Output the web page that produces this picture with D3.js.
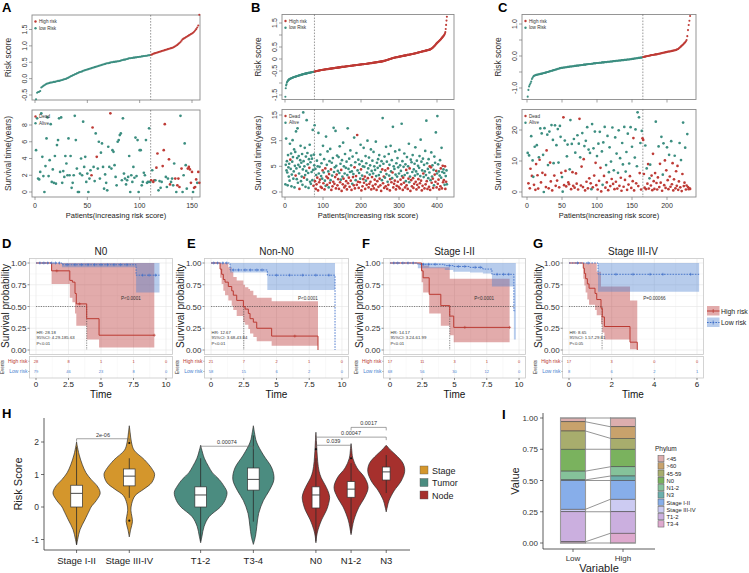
<!DOCTYPE html>
<html><head><meta charset="utf-8">
<script src="https://cdn.jsdelivr.net/npm/d3@7/dist/d3.min.js"></script>
<style>
html,body{margin:0;padding:0;background:#fff;}
svg text{font-family:"Liberation Sans",Arial,Helvetica,sans-serif;}
</style></head><body>
<svg id="fig" width="749" height="573" xmlns="http://www.w3.org/2000/svg"></svg>
<script>
// ================= DATA =================
// Panel A
const riskA = [-0.63,-0.43,-0.41,-0.40,-0.38,-0.27,-0.25,-0.22,-0.20,-0.18,
-0.16,-0.15,-0.14,-0.13,-0.12,-0.12,-0.11,-0.10,-0.10,-0.09,
-0.08,-0.07,-0.07,-0.06,-0.05,-0.04,-0.03,-0.02,-0.01,0.00,
0.02,0.03,0.05,0.07,0.08,0.10,0.11,0.13,0.14,0.16,
0.17,0.19,0.20,0.21,0.22,0.24,0.25,0.26,0.27,0.28,
0.29,0.30,0.31,0.32,0.33,0.34,0.35,0.36,0.37,0.38,
0.39,0.40,0.41,0.42,0.43,0.44,0.45,0.46,0.47,0.47,
0.48,0.49,0.50,0.50,0.51,0.51,0.52,0.52,0.53,0.53,
0.54,0.55,0.56,0.57,0.58,0.58,0.59,0.60,0.61,0.62,
0.62,0.63,0.63,0.64,0.64,0.65,0.65,0.66,0.66,0.67,
0.67,0.68,0.68,0.69,0.69,0.70,0.70,0.71,0.71,0.72,
0.73,0.74,0.76,0.77,0.78,0.79,0.80,0.81,0.82,0.83,
0.84,0.85,0.86,0.87,0.88,0.89,0.90,0.91,0.92,0.93,
0.94,0.95,0.97,0.99,1.01,1.03,1.06,1.09,1.12,1.16,
1.20,1.22,1.24,1.26,1.28,1.30,1.32,1.34,1.36,1.38,
1.40,1.43,1.47,1.51,1.56,1.62,1.95];
const timeA = [5.0,8.8,1.6,1.5,2.4,9.4,4.2,1.9,0.0,3.1,
6.4,8.9,1.9,3.8,8.1,1.2,2.7,1.1,4.3,1.0,
5.6,6.2,8.8,2.4,8.9,1.1,2.5,1.8,4.3,3.4,
2.0,6.4,2.0,4.3,0.5,1.1,2.0,9.1,6.2,2.8,
0.0,0.0,2.2,4.0,2.0,8.4,3.0,4.2,1.2,2.2,
0.0,1.6,2.6,2.0,7.7,3.0,1.3,7.0,4.2,2.8,
6.0,1.6,4.7,5.8,3.0,0.4,2.1,1.1,0.2,5.4,
3.0,9.4,2.8,5.0,4.8,3.2,1.8,0.8,6.0,6.2,
6.8,7.0,1.4,8.8,2.2,1.6,0.9,1.4,1.8,4.3,
0.0,2.0,1.2,3.0,1.7,6.5,1.9,6.2,0.0,5.0,
5.0,0.8,1.2,2.3,2.0,6.2,1.1,1.2,7.6,1.2,
1.4,2.6,1.2,1.4,1.4,2.9,4.6,0.2,1.3,0.5,
1.2,3.1,5.0,8.1,1.8,0.6,1.6,3.9,0.9,1.2,
1.6,0.8,3.4,1.6,0.0,0.8,1.6,0.6,9.1,2.8,
0.0,2.0,5.8,3.2,0.4,2.8,3.0,2.7,1.1,2.4,
0.0,0.5,0.6,1.5,1.1,2.4,1.1];
const statusA = [0,0,0,0,0,0,0,0,0,0, 0,0,0,0,0,0,0,0,0,0, 0,0,0,0,0,0,0,0,0,0,
0,0,0,0,0,0,0,0,0,0, 0,0,0,0,0,0,0,0,0,0, 0,0,0,1,1,0,0,0,1,0,
0,0,0,0,0,0,0,0,0,0, 0,1,0,0,0,0,0,0,0,0, 0,0,0,0,0,0,0,0,0,0,
0,0,0,0,0,0,0,0,0,0, 0,0,0,0,0,0,0,0,0,0,
1,0,1,1,0,1,1,0,0,0, 0,1,1,1,0,0,0,1,1,0, 0,0,0,1,0,1,1,1,0,1,
0,0,0,0,0,1,1,1,1,1, 0,1,1,1,0,1,1];
const cutA = 110;

// Panel B
const riskB = [-1.57,-1.22,-1.10,-1.05,-0.98,-0.95,-0.92,-0.90,-0.88,-0.86,
-0.85,-0.84,-0.83,-0.82,-0.81,-0.80,-0.80,-0.79,-0.78,-0.78,
-0.77,-0.76,-0.76,-0.75,-0.75,-0.74,-0.74,-0.73,-0.73,-0.72,
-0.72,-0.71,-0.71,-0.70,-0.70,-0.69,-0.69,-0.68,-0.68,-0.67,
-0.67,-0.66,-0.66,-0.65,-0.65,-0.64,-0.64,-0.63,-0.63,-0.63,
-0.62,-0.62,-0.61,-0.61,-0.61,-0.60,-0.60,-0.59,-0.59,-0.59,
-0.58,-0.58,-0.58,-0.57,-0.57,-0.56,-0.56,-0.56,-0.55,-0.55,
-0.55,-0.54,-0.54,-0.54,-0.53,-0.53,-0.53,-0.52,-0.52,-0.51,
-0.51,-0.51,-0.50,-0.50,-0.50,-0.49,-0.49,-0.49,-0.48,-0.48,
-0.48,-0.47,-0.47,-0.47,-0.46,-0.46,-0.46,-0.46,-0.45,-0.45,
-0.45,-0.45,-0.44,-0.44,-0.44,-0.44,-0.43,-0.43,-0.43,-0.43,
-0.42,-0.42,-0.42,-0.42,-0.41,-0.41,-0.41,-0.41,-0.40,-0.40,
-0.40,-0.40,-0.40,-0.39,-0.39,-0.39,-0.39,
-0.38,-0.38,-0.38,-0.38,-0.37,-0.37,-0.37,-0.37,-0.37,-0.36,
-0.36,-0.36,-0.36,-0.35,-0.35,-0.35,-0.35,-0.34,-0.34,-0.34,
-0.34,-0.33,-0.33,-0.33,-0.33,-0.33,-0.32,-0.32,-0.32,-0.32,
-0.31,-0.31,-0.31,-0.31,-0.30,-0.30,-0.30,-0.30,-0.30,-0.29,
-0.29,-0.29,-0.29,-0.29,
-0.28,-0.28,-0.28,-0.28,-0.28,-0.27,-0.27,-0.27,-0.27,-0.27,
-0.26,-0.26,-0.26,-0.26,-0.26,-0.25,-0.25,-0.25,-0.25,-0.25,
-0.24,-0.24,-0.24,-0.24,-0.24,-0.23,-0.23,-0.23,-0.23,-0.23,
-0.22,-0.22,-0.22,-0.22,-0.22,-0.22,-0.21,-0.21,-0.21,-0.21,
-0.21,-0.21,-0.20,-0.20,
-0.20,-0.20,-0.19,-0.19,-0.19,-0.19,-0.18,-0.18,-0.18,-0.18,
-0.17,-0.17,-0.17,-0.17,-0.16,-0.16,-0.16,-0.16,-0.15,-0.15,
-0.15,-0.15,-0.14,-0.14,-0.14,-0.14,-0.13,-0.13,-0.13,-0.13,
-0.12,-0.12,-0.12,-0.12,-0.11,-0.11,-0.11,-0.11,-0.10,-0.10,
-0.10,-0.09,-0.09,-0.09,
-0.08,-0.08,-0.07,-0.07,-0.06,-0.06,-0.05,-0.05,-0.04,-0.04,
-0.03,-0.03,-0.02,-0.02,-0.01,-0.01,0.00,0.00,0.01,0.01,
0.02,0.02,0.03,0.03,0.04,0.04,0.05,0.05,0.05,0.06,
0.06,0.06,0.07,0.07,0.07,0.08,0.08,0.08,0.09,0.09,
0.09,0.10,0.10,0.10,
0.11,0.11,0.11,0.12,0.12,0.12,0.13,0.13,0.13,0.14,
0.14,0.14,0.15,0.15,0.15,0.16,0.16,0.16,0.17,0.17,
0.17,0.18,0.18,0.18,0.19,0.19,0.19,0.20,0.20,0.20,
0.21,0.21,0.21,0.22,0.22,0.22,0.23,0.23,0.23,0.24,
0.24,0.24,0.25,
0.25,0.26,0.26,0.27,0.27,0.27,0.28,0.28,0.29,0.29,
0.29,0.30,0.30,0.31,0.31,0.31,0.32,0.32,0.33,0.33,
0.33,0.34,0.34,0.35,0.35,0.35,0.36,0.36,0.37,0.37,
0.37,0.38,0.38,0.39,0.39,0.40,
0.41,0.42,0.43,0.44,0.45,0.46,0.48,0.49,0.51,0.52,
0.54,0.55,0.57,0.59,0.61,0.63,0.65,
0.67,0.68,0.70,0.71,0.73,0.74,0.76,0.77,0.79,0.80,
0.82,0.84,0.86,
0.88,0.90,0.92,0.94,0.96,0.98,1.00,1.03,1.07,
1.12,1.25,1.42,1.60,1.76];
const timeB = [1.5,5.3,10.4,4.2,6.0,3.8,1.3,7.2,4.8,3.0,
5.5,2.2,9.4,6.3,4.5,7.5,1.1,3.4,5.9,10.1,
6.8,2.6,4.0,8.3,0.9,5.1,7.8,3.2,11.8,4.6,
2.5,6.6,12.4,1.8,5.3,7.0,3.6,0.6,4.9,6.2,
9.0,2.1,5.7,3.0,7.4,1.4,4.4,15.5,6.0,2.8,
5.0,8.6,3.3,1.0,6.9,4.1,14.0,2.4,7.6,5.4,
3.7,0.8,6.4,4.7,9.2,2.0,5.8,1.6,7.1,3.9,
6.5,2.3,12.1,4.3,1.2,7.3,5.2,
13.0,2.1,4.5,0.6,3.3,1.5,6.1,2.8,5.0,0.3,
11.5,3.6,1.9,4.9,2.4,7.3,1.0,3.1,5.6,0.8,
2.6,4.2,9.0,1.7,3.8,6.4,0.5,2.2,4.6,1.2,
10.8,3.0,5.3,1.4,7.9,2.7,4.0,0.9,3.5,6.0,
1.8,8.4,2.3,4.4,0.4,5.7,3.2,1.1,6.6,2.0,
12.5,3.9,1.6,4.8,2.9,11.9,0.7,5.1,3.4,7.1,
1.3,4.1,2.5,6.8,0.6,3.7,8.9,1.9,5.5,2.4,
4.3,0.2,6.2,3.0,1.5,9.6,2.6,5.0,0.9,3.6,
7.4,1.2,4.7,2.1,5.9,0.5,3.3,12.4,1.7,4.5,
2.8,6.5,1.0,3.9,8.1,2.2,5.2,0.4,4.0,1.6,
6.9,2.9,3.5,1.3,10.6,4.8,0.7,5.8,2.3,3.1,
7.6,1.4,11.1,4.2,2.0,6.3,0.8,3.7,5.4,1.9,
2.6,9.2,4.4,0.3,6.0,3.2,1.1,5.0,2.5,8.6,
1.8,4.9,3.0,0.6,7.0,2.2,5.6,1.4,3.8,10.0,
2.7,4.6,0.9,6.7,1.6,3.4,5.2,2.0,8.3,0.5,
4.1,2.9,6.1,1.2,3.6,7.8,0.7,5.0,2.4,4.3,
1.5,9.8,3.1,0.4,5.7,2.1,4.7,6.4,1.0,3.3,
7.2,2.6,5.1,1.3,3.9,0.2,6.0,2.3,4.4,14.4,
1.7,5.5,3.0,0.8,6.9,2.8,4.2,1.1,8.8,3.5,
5.9,0.6,2.0,4.6,1.4,7.4,3.2,5.3,0.3,2.5,
9.0,4.0,1.9,6.2,2.7,3.8,12.7,0.9,5.0,1.6,
4.5,2.2,7.9,3.4,0.5,5.6,1.2,3.0,6.6,2.0,
4.8,1.0,3.6,8.2,0.7,5.2,2.4,4.1,1.5,13.3,
3.1,6.0,0.4,2.8,4.9,1.8,7.5,3.3,0.9,5.4,
2.1,4.3,1.3,6.8,3.7,0.6,5.0,2.6,9.4,1.9,
4.6,3.0,0.2,6.3,2.3,5.8,1.1,3.9,7.2,2.7,
0.8,4.4,1.6,5.5,3.2,8.7,2.0,4.0,0.5,6.1,
1.4,3.5,5.1,2.5,0.9,4.7,7.0,1.7,3.1,10.2,
2.2,5.9,0.3,4.2,1.2,6.5,3.6,2.9,5.3,0.7,
4.0,8.0,1.5,3.3,13.9,2.1,5.6,0.6,4.5,2.7,
6.4,1.0,3.8,5.0,0.4,2.3,4.8,7.7,1.8,3.0,
5.2,2.6,0.8,4.3,1.3,6.9,3.4,5.7,2.0,11.6,
4.1,0.9,3.6,14.8,1.6,5.4,2.4,4.0,0.5,3.2,
6.2,1.1,4.6,2.8,8.6,0.7,3.9,5.1,1.9,4.4,
2.3,3.7,1.4,5.0,0.6,3.1,2.0,4.2,1.5];
const statusB = [0,0,0,0,0,0,0,0,0,0, 0,0,0,1,0,0,0,0,0,0, 0,0,0,0,0,0,0,1,0,0,
0,0,0,0,0,0,0,1,0,0, 0,0,0,0,0,0,0,0,0,1, 0,0,0,0,0,0,0,0,0,0,
0,0,0,1,0,0,0,0,0,0, 0,0,0,0,1,0,0,
0,1,0,1,0,1,0,1,0,1, 0,0,1,0,1,0,1,0,0,1, 0,1,0,1,0,0,1,0,1,0,
0,1,0,1,0,1,0,0,1,0, 1,0,0,1,1,0,0,1,0,1, 0,0,1,0,1,0,1,0,1,0,
1,0,1,0,1,0,0,1,0,0, 1,1,0,0,1,0,1,0,1,0, 0,1,0,1,0,1,0,0,1,0,
1,0,1,0,0,1,0,1,0,0, 0,1,0,1,0,1,1,0,0,1, 0,1,1,0,1,0,1,0,0,1,
0,0,1,1,0,0,1,0,1,0, 1,0,1,1,0,0,0,1,0,0, 1,0,1,0,1,0,0,1,0,1,
0,1,0,1,0,0,1,0,1,0, 1,0,0,1,0,1,0,0,1,0, 0,1,0,1,0,1,0,0,1,0,
1,0,1,1,0,0,1,1,0,0, 0,1,0,1,1,0,0,0,1,1, 0,0,1,0,0,1,0,1,0,1,
0,1,0,0,1,0,1,0,0,1, 0,1,0,0,1,0,1,0,1,0, 0,0,1,1,0,1,0,0,1,0,
0,1,1,0,0,1,0,1,0,0, 1,0,1,0,1,0,1,0,0,1, 1,0,1,0,0,0,1,0,1,0,
1,0,0,1,1,0,0,1,0,0, 1,0,1,0,1,0,1,0,0,1, 0,0,1,0,0,1,0,1,0,0,
0,1,0,1,1,0,1,0,1,0, 0,1,1,0,0,0,1,0,1,0, 1,1,0,0,1,0,1,0,1,0,
0,1,1,0,0,1,0,1,1,0, 1,0,0,1,1,0,1,0,0];
const cutB = 77;

// Panel C
const riskC = [-1.27,-1.06,-0.95,-0.90,-0.85,-0.80,-0.72,-0.68,-0.64,-0.62,
-0.61,-0.60,-0.59,-0.59,-0.58,-0.58,-0.57,-0.57,-0.56,-0.56,-0.55,-0.55,-0.54,
-0.53,-0.53,-0.52,-0.52,-0.51,-0.50,-0.50,-0.49,-0.48,-0.48,-0.47,-0.46,-0.46,-0.45,-0.44,-0.44,-0.43,-0.42,-0.42,-0.41,-0.40,-0.40,-0.39,-0.38,
-0.38,-0.37,-0.37,-0.37,-0.36,-0.36,-0.36,-0.35,-0.35,-0.35,-0.34,-0.34,-0.34,-0.33,-0.33,-0.33,-0.33,-0.32,-0.32,-0.32,-0.31,-0.31,-0.31,-0.30,-0.30,-0.30,-0.30,-0.29,-0.29,-0.29,-0.28,-0.28,-0.28,
-0.27,-0.27,-0.27,-0.27,-0.26,-0.26,-0.26,-0.25,-0.25,-0.25,-0.25,-0.24,-0.24,-0.24,-0.23,-0.23,-0.23,-0.23,-0.22,-0.22,-0.22,-0.22,-0.21,-0.21,-0.21,-0.21,-0.20,-0.20,-0.20,-0.20,-0.19,-0.19,-0.19,-0.19,-0.18,-0.18,-0.18,-0.18,
-0.17,-0.17,-0.17,-0.17,-0.16,-0.16,-0.16,-0.16,-0.15,-0.15,-0.15,-0.15,-0.14,-0.14,-0.14,-0.14,-0.13,-0.13,-0.13,-0.13,-0.12,-0.12,-0.12,-0.12,-0.11,-0.11,-0.11,-0.11,-0.10,-0.10,-0.10,-0.09,-0.09,
-0.09,-0.08,-0.08,-0.08,-0.07,-0.07,-0.07,-0.06,-0.06,-0.06,-0.05,-0.05,-0.05,-0.04,
-0.03,-0.03,-0.02,-0.02,-0.01,-0.01,0.00,0.00,0.01,0.01,0.02,0.02,0.03,0.03,0.03,0.04,0.04,0.05,0.05,0.05,0.06,0.06,0.07,0.07,0.08,
0.08,0.09,0.09,0.10,0.10,0.11,0.11,0.12,0.12,0.13,0.13,0.14,0.14,0.14,0.15,0.15,0.16,0.16,0.17,0.17,0.18,0.18,0.19,
0.20,0.21,0.22,0.24,0.26,0.28,0.30,0.32,0.34,0.36,0.38,0.41,0.43,0.46,
0.50,0.62,0.81,0.97,1.10,1.25];
const timeC = [12.6,2.8,11.8,1.2,7.5,18.0,5.2,10.2,4.9,2.3,
14.6,0.7,9.0,15.1,5.4,1.1,11.2,10.4,20.5,3.1,
18.9,6.2,12.0,0.0,20.6,5.5,1.6,13.4,18.5,8.7,
1.2,19.5,9.5,3.4,21.6,0.5,16.8,9.3,5.3,21.5,
2.0,15.1,3.7,20.3,9.5,1.5,21.3,17.8,6.2,4.8,
0.1,24.1,2.2,16.6,6.8,1.8,11.5,15.3,3.1,2.5,
7.3,23.2,0.9,15.5,6.4,2.0,17.1,1.4,12.7,6.0,
2.7,18.3,0.8,15.6,23.6,11.2,2.1,8.2,19.0,1.6,
10.6,14.8,0.5,16.5,3.3,20.9,1.2,13.7,4.4,12.6,
2.8,0.9,21.9,1.5,14.1,5.3,19.5,9.4,2.2,11.6,
0.8,15.6,3.6,19.4,7.8,0.2,13.1,2.3,16.0,5.2,
21.0,1.4,8.7,3.1,18.1,0.6,6.4,14.4,1.9,9.8,
4.2,20.8,2.6,7.0,0.9,17.6,3.3,12.4,1.1,6.2,
19.9,2.0,10.9,4.6,0.4,15.8,8.9,1.7,21.0,3.9,
6.6,12.9,0.7,18.8,2.4,9.2,5.1,20.9,1.3,14.6,
3.5,17.4,0.5,11.1,20.2,2.8,8.3,25.7,1.9,24.1,
6.1,15.8,0.8,19.7,17.3,
16.8,5.8,1.4,15.0,0.9,7.6,2.7,9.0,1.1,4.4,
8.8,2.1,5.3,0.6,12.3,3.5,1.0,6.1,22.7,2.9,
0.8,4.7,14.7,1.6,9.1,3.0,17.8,0.4,5.6,15.7,
2.2,10.2,1.3,7.0,14.4,3.8,0.9,12.0,5.0,1.7,
16.4,2.5,9.3,0.5,4.1,11.7,1.2,6.7,2.0,8.4,
0.7,3.4,15.8,1.5,10.3,0.3,5.8,22.4,1.9,3.0,
14.3,0.8,2.1,18.7,1.6,0.9,1.2,1.0];
const statusC = [0,1,0,1,1,0,1,0,0,1, 0,1,1,0,1,1,0,1,0,1, 0,1,0,0,0,1,1,1,0,0,
1,0,1,1,0,1,0,0,1,0, 1,0,1,0,0,1,0,0,1,0, 0,1,1,0,1,1,0,0,1,1,
0,0,1,0,1,1,0,1,0,1, 1,0,1,0,1,0,1,1,0,1, 1,0,1,0,1,0,1,0,1,0,
1,0,0,1,0,1,0,1,1,0, 1,0,1,0,1,1,0,0,0,1, 0,1,0,1,0,1,0,0,1,0,
1,0,1,0,1,0,1,0,1,0, 0,1,0,1,1,0,0,1,0,1, 0,0,1,0,1,0,1,0,1,0,
1,1,1,0,0,1,0,0,1,0, 1,0,1,0,1,
1,1,1,0,1,0,1,1,1,0, 0,1,1,1,1,1,1,1,0,1, 1,1,0,1,1,1,0,1,0,0,
1,1,1,1,0,1,1,0,1,1, 0,1,1,1,1,0,1,1,1,1, 1,1,0,1,0,1,1,0,1,1,
0,1,1,0,1,1,1,1];
const cutC = 165;

// KM panels: rows are [time, survival, lower CI, upper CI]
const kmTitles = ["N0","Non-N0","Stage I-II","Stage III-IV"];
const dHigh = [[0,1,1,1],[1.2,0.91,0.76,1],[2.6,0.80,0.60,1],[2.8,0.78,0.55,1],[3.0,0.65,0.42,1],[3.1,0.53,0.28,1],[3.9,0.36,0.12,1],[4.85,0.17,0.03,1],[9.1,0.17,0.03,1]];
const dLow = [[0,1,1,1],[2.0,0.98,0.95,1],[7.7,0.86,0.66,1],[9.5,0.86,0.66,1]];
const eHigh = [[0,1,1,1],[0.69,0.93,0.83,1],[0.81,0.87,0.76,1],[0.94,0.81,0.68,1],[1.07,0.78,0.63,1],[1.32,0.73,0.57,0.95],[1.58,0.68,0.51,0.9],[1.70,0.63,0.46,0.84],[1.96,0.57,0.39,0.8],[2.47,0.5,0.32,0.75],[2.6,0.47,0.29,0.72],[2.85,0.42,0.24,0.7],[2.98,0.36,0.19,0.68],[3.23,0.32,0.15,0.63],[3.49,0.25,0.1,0.6],[4.63,0.16,0.05,0.56],[8.17,0,0,0]];
const eLow = [[0,1,1,1],[1.45,0.92,0.89,1],[4.3,0.86,0.69,1],[9.47,0,0,0]];
const fHigh = [[0,1,1,1],[2.45,0.91,0.78,1],[2.57,0.83,0.66,0.97],[3.04,0.64,0.42,0.95],[3.94,0.51,0.28,0.95],[4.63,0.39,0.17,0.82],[4.94,0.26,0.09,0.82],[9.27,0.26,0.09,0.82]];
const fLow = [[0,1,1,1],[2.16,0.985,0.94,1],[4.25,0.97,0.92,1],[4.9,0.96,0.9,1],[6.2,0.95,0.89,1],[7.2,0.93,0.88,1],[7.9,0.87,0.73,1],[9.6,0.45,0.12,1],[9.75,0.45,0.12,1]];
const gHigh = [[0,1,1,1],[0.67,0.94,0.82,1],[0.72,0.88,0.74,1],[0.78,0.82,0.66,1],[0.86,0.76,0.58,1],[0.94,0.71,0.52,1],[1.22,0.65,0.46,1],[1.3,0.58,0.4,0.9],[1.5,0.48,0.3,0.73],[1.56,0.38,0.2,0.73],[1.66,0.27,0.12,0.73],[2.86,0.09,0.01,0.57],[3.2,0,0,0]];
const gLow = [[0,1,1,1],[1.36,0.87,0.67,1],[6.1,0.87,0.67,1]];
const censHigh = [[1.6,3.35,9.1],[6.4],[5.8,9.27],[]];
const censLow = [[0.3,0.6,0.9,1.2,1.5,1.8,2.4,3,3.5,4,4.5,5,5.5,6,6.5,7,8.2,8.7,9.2],[0.2,0.5,0.9,1.2,1.7,2.1,2.6,3,3.5,3.9,5,6,7,8,9],[0.3,0.6,1,1.4,1.8,2.6,3,3.5,4.6,5.3,5.8,6.6,7,8.3,8.8,9.2],[0.4,0.9,2.2,3,3.8,4.4,5.7]];
const riskHigh = [[28,8,1,1,0],[21,7,2,1,0],[17,11,3,1,0],[17,3,0,0]];
const riskLow = [[79,46,23,8,0],[58,15,6,2,0],[68,56,30,12,0],[8,6,2,1]];
const pTexts = ["P<0.0001","P<0.0001","P<0.0001","P=0.00066"];
const hrTexts = [["HR: 28.18","95%CI: 4.29-185.63","P<0.01"],["HR: 12.67","95%CI: 3.68-43.84","P<0.01"],["HR: 14.17","95%CI: 3.24-61.99","P<0.01"],["HR: 8.65","95%CI: 1.57-29.81","P<0.05"]];
const medianT = [[3.9],[2.5],[4.63],[1.55]];
const medianEnd = [3.9,9.47,9.6,1.55];
const timeTicks = [[0,2.5,5,7.5,10],[0,2.5,5,7.5,10],[0,2.5,5,7.5,10],[0,2,4,6]];

// Panel H violins
const vGroups = ["Stage","Tumor","Node"];
const vCats = [["Stage I-II","Stage III-IV"],["T1-2","T3-4"],["N0","N1-2","N3"]];
const vProfiles = {
 "Stage I-II": [[-1.17,0],[-1.0,0.04],[-0.7,0.13],[-0.4,0.31],[-0.1,0.49],[0.0,0.55],[0.2,0.75],[0.4,0.89],[0.5,0.88],[0.65,0.78],[0.85,0.55],[1.05,0.36],[1.3,0.22],[1.6,0.1],[1.9,0.02],[2.0,0]],
 "Stage III-IV": [[-0.92,0],[-0.7,0.05],[-0.45,0.12],[-0.3,0.1],[-0.1,0.06],[0.1,0.09],[0.35,0.22],[0.55,0.55],[0.75,0.85],[1.0,0.96],[1.15,0.88],[1.45,0.58],[1.75,0.18],[2.0,0.08],[2.3,0.03],[2.5,0]],
 "T1-2": [[-1.1,0],[-0.9,0.05],[-0.6,0.13],[-0.3,0.32],[0.0,0.75],[0.2,0.92],[0.45,1.0],[0.65,0.88],[0.85,0.7],[1.05,0.45],[1.25,0.3],[1.5,0.14],[1.8,0.03],[1.9,0]],
 "T3-4": [[-1.15,0],[-0.9,0.08],[-0.6,0.13],[-0.2,0.2],[0.2,0.38],[0.5,0.6],[0.85,0.78],[1.2,0.7],[1.6,0.38],[2.0,0.12],[2.3,0.04],[2.5,0]],
 "N0": [[-1.1,0],[-0.9,0.04],[-0.7,0.12],[-0.4,0.32],[-0.1,0.6],[0.1,0.72],[0.3,0.78],[0.5,0.68],[0.7,0.5],[0.9,0.3],[1.1,0.18],[1.4,0.1],[1.7,0.06],[2.0,0.03],[2.3,0]],
 "N1-2": [[-0.85,0],[-0.6,0.08],[-0.4,0.16],[0.0,0.45],[0.3,0.78],[0.6,0.97],[0.9,0.78],[1.2,0.34],[1.5,0.1],[1.8,0.03],[1.95,0]],
 "N3": [[-0.15,0],[0.0,0.06],[0.2,0.16],[0.5,0.45],[0.8,0.85],[1.1,1.05],[1.35,0.95],[1.6,0.55],[1.75,0.25],[1.9,0]]
};
// [lower whisker, q1, median, q3, upper whisker]
const vBoxes = {"Stage I-II":[-1.15,0.0,0.42,0.67,1.85],"Stage III-IV":[0.28,0.65,0.95,1.17,1.5],"T1-2":[-1.05,0.0,0.37,0.62,1.5],"T3-4":[-0.45,0.52,0.85,1.2,2.2],"N0":[-1.05,-0.03,0.37,0.62,1.5],"N1-2":[-0.8,0.3,0.55,0.78,1.35],"N3":[0.43,0.83,1.08,1.23,1.6]};
const vOutliers = {"Stage III-IV":[1.97,-0.42],"N0":[1.78],"N1-2":[1.5]};
const vBrackets = [["Stage I-II","Stage III-IV",2.1,"2e-06"],["T1-2","T3-4",1.87,"0.00074"],["N0","N1-2",1.9,"0.039"],["N0","N3",2.15,"0.00047"],["N1-2","N3",2.45,"0.0017"]];
const vColors = ["#D4962C","#4B8C80","#A6302D"];

// Panel I stacked bars
const phylum = ["<45",">60","45-59","N0","N1-2","N3","Stage I-II","Stage III-IV","T1-2","T3-4"];
const lowVals = [0.03,0.074,0.146,0.175,0.07,0.005,0.23,0.02,0.24,0.01];
const highVals = [0.07,0.093,0.087,0.14,0.074,0.036,0.15,0.10,0.172,0.078];
const phylumColors = ["#DCAEAE","#C8A26C","#A8AD6D","#7AB25E","#85C29A","#6BAFAC","#87AEEA","#CCCBF2","#CBAFDF","#DEA9CE"];

// ================= DRAW =================
const svg = d3.select("#fig");
const RED = "#BE3B36", TEAL = "#3C8E80";
const KRED = "#BB3A32", KBLUE = "#3F6FC8";

function txt(g, x, y, s, size, opt = {}) {
  const t = g.append("text").attr("x", x).attr("y", y).attr("font-size", size).text(s)
    .attr("fill", opt.fill || "#1a1a1a").attr("text-anchor", opt.anchor || "start");
  if (opt.weight) t.attr("font-weight", opt.weight);
  if (opt.rotate) t.attr("transform", `rotate(${opt.rotate},${x},${y})`);
  return t;
}
function ln(g, x1, y1, x2, y2, stroke, w, dash) {
  const l = g.append("line").attr("x1", x1).attr("y1", y1).attr("x2", x2).attr("y2", y2)
    .attr("stroke", stroke).attr("stroke-width", w);
  if (dash) l.attr("stroke-dasharray", dash);
  return l;
}

// ---------- A, B, C ----------
function riskPanel(o) {
  const g = svg.append("g");
  const x = d3.scaleLinear().domain(o.xDom).range(o.xRan);
  const yT = d3.scaleLinear().domain(o.yTDom).range(o.yTRan);
  const yB = d3.scaleLinear().domain(o.yBDom).range(o.yBRan);
  const idx = d3.range(o.risk.length);
  [o.top, o.bot].forEach(b => g.append("rect").attr("x", o.bx0).attr("y", b[0])
    .attr("width", o.bx1 - o.bx0).attr("height", b[1] - b[0])
    .attr("fill", "none").attr("stroke", "#8a8a8a").attr("stroke-width", 0.9));
  const xc = x(o.cut + 0.5);
  ln(g, xc, o.top[0], xc, o.top[1], "#555", 0.6, "1.6,1.4");
  ln(g, xc, o.bot[0], xc, o.bot[1], "#555", 0.6, "1.6,1.4");
  g.selectAll(null).data(idx).join("circle")
    .attr("cx", i => x(i + 1)).attr("cy", i => yT(o.risk[i])).attr("r", 1.05)
    .attr("fill", i => i < o.cut ? TEAL : RED);
  g.selectAll(null).data(idx).join("circle")
    .attr("cx", i => x(i + 1)).attr("cy", i => yB(o.time[i])).attr("r", 1.35)
    .attr("fill", i => o.status[i] ? RED : TEAL);
  const yAx = (sc, ticks, labels) => ticks.forEach((t, i) => {
    ln(g, o.bx0 - 3, sc(t), o.bx0, sc(t), "#666", 0.6);
    if (labels[i] !== "") txt(g, o.bx0 - 5.5, sc(t), labels[i], 7, {anchor: "middle", rotate: -90, fill: "#333"});
  });
  yAx(yT, o.yTTicks, o.yTLabels);
  yAx(yB, o.yBTicks, o.yBTicks.map(String));
  o.xTicks.forEach(t => {
    ln(g, x(t), o.top[1], x(t), o.top[1] + 3, "#666", 0.6);
    ln(g, x(t), o.bot[1], x(t), o.bot[1] + 3, "#666", 0.6);
    txt(g, x(t), o.bot[1] + 11, String(t), 7, {anchor: "middle", fill: "#333"});
  });
  const cx = (o.bx0 + o.bx1) / 2;
  txt(g, cx, o.bot[1] + 21, "Patients(increasing risk score)", 7.5, {anchor: "middle", fill: "#222"});
  txt(g, o.bx0 - 21, (o.top[0] + o.top[1]) / 2, "Risk score", 8.5, {anchor: "middle", rotate: -90, fill: "#333"});
  txt(g, o.bx0 - 21, (o.bot[0] + o.bot[1]) / 2, "Survival time(years)", 8.5, {anchor: "middle", rotate: -90, fill: "#333"});
  const leg = (y0, items) => items.forEach((it, i) => {
    g.append("circle").attr("cx", o.bx0 + 3.5).attr("cy", y0 + i * 6.8).attr("r", 1.2).attr("fill", it[1]);
    txt(g, o.bx0 + 7, y0 + i * 6.8 + 1.6, it[0], 4.6, {fill: "#333"});
  });
  leg(o.top[0] + 6.5, [["High risk", RED], ["low Risk", TEAL]]);
  leg(o.bot[0] + 6.5, [["Dead", RED], ["Alive", TEAL]]);
  txt(g, o.lx, 11.5, o.letter, 13, {weight: "bold", fill: "#000"});
}
riskPanel({letter: "A", lx: 2, bx0: 32, bx1: 200, top: [15, 100], bot: [110, 197],
  xDom: [0, 150], xRan: [35, 192], xTicks: [0, 50, 100, 150],
  yTDom: [-0.5, 1.5], yTRan: [95, 29.5], yTTicks: [-0.5, 0, 0.5, 1, 1.5], yTLabels: ["-0.5", "0.0", "0.5", "1.0", "1.5"],
  yBDom: [0, 8], yBRan: [192, 125], yBTicks: [0, 2, 4, 6, 8],
  risk: riskA, time: timeA, status: statusA, cut: cutA});
riskPanel({letter: "B", lx: 251, bx0: 282, bx1: 454, top: [14.5, 99.5], bot: [109.5, 197],
  xDom: [0, 400], xRan: [285, 437], xTicks: [0, 100, 200, 300, 400],
  yTDom: [-1.5, 1.5], yTRan: [95, 23], yTTicks: [-1.5, -1, -0.5, 0, 0.5, 1, 1.5], yTLabels: ["-1.5", "", "-0.5", "0", "0.5", "", "1.5"],
  yBDom: [0, 15], yBRan: [192, 115], yBTicks: [0, 5, 10, 15],
  risk: riskB, time: timeB, status: statusB, cut: cutB});
riskPanel({letter: "C", lx: 498, bx0: 522, bx1: 696, top: [14.5, 99.5], bot: [109.5, 197],
  xDom: [0, 200], xRan: [527, 667], xTicks: [0, 50, 100, 150, 200],
  yTDom: [-1, 1], yTRan: [88, 24], yTTicks: [-1, -0.5, 0, 0.5, 1], yTLabels: ["-1.0", "", "0.0", "", "1.0"],
  yBDom: [0, 20], yBRan: [192, 130], yBTicks: [0, 10, 20],
  risk: riskC, time: timeC, status: statusC, cut: cutC});

// ---------- D, E, F, G ----------
const kmCurves = [[dHigh, dLow], [eHigh, eLow], [fHigh, fLow], [gHigh, gLow]];
const kmBoxes = [[29.5, 172.5, 10], [204.5, 348.5, 10], [383.5, 525.5, 10], [562.6, 703.4, 6]];
const kmLetters = [["D", 2], ["E", 187], ["F", 362], ["G", 533]];
const kmP = [[7.3, 0.575], [7.4, 0.575], [7.3, 0.575], [4.0, 0.575]];

function survAt(rows, t) {
  let s = 1;
  rows.forEach(r => { if (r[0] <= t) s = r[1]; });
  return s;
}
kmCurves.forEach((cv, k) => {
  const g = svg.append("g");
  const [x0, x1, tmax] = kmBoxes[k];
  const pad = (x1 - x0) / 22;
  const x = d3.scaleLinear().domain([0, tmax]).range([x0 + pad, x1 - pad]);
  const y = d3.scaleLinear().domain([0, 1]).range([350, 263]);
  const py0 = 258.5, py1 = 354.5;
  const ticks = timeTicks[k];
  g.append("rect").attr("x", x0).attr("y", py0).attr("width", x1 - x0).attr("height", py1 - py0).attr("fill", "#fff");
  const minorX = ticks.slice(1).map((t, i) => (t + ticks[i]) / 2);
  minorX.forEach(t => ln(g, x(t), py0, x(t), py1, "#F1F1F1", 0.5));
  [0.125, 0.375, 0.625, 0.875].forEach(v => ln(g, x0, y(v), x1, y(v), "#F1F1F1", 0.5));
  ticks.forEach(t => ln(g, x(t), py0, x(t), py1, "#E4E4E4", 0.6));
  [0, 0.25, 0.5, 0.75, 1].forEach(v => ln(g, x0, y(v), x1, y(v), "#E4E4E4", 0.6));
  const area = d3.area().x(d => x(d[0])).y0(d => y(d[2])).y1(d => y(d[3])).curve(d3.curveStepAfter);
  const line = d3.line().x(d => x(d[0])).y(d => y(d[1])).curve(d3.curveStepAfter);
  g.append("path").attr("d", area(cv[0])).attr("fill", "#B22222").attr("fill-opacity", 0.38);
  g.append("path").attr("d", area(cv[1])).attr("fill", "#4A7FD0").attr("fill-opacity", 0.4);
  ln(g, x(0), y(0.5), x(medianEnd[k]), y(0.5), "#333", 0.6, "1.2,1.2");
  medianT[k].forEach(t => ln(g, x(t), y(0.5), x(t), y(0), "#333", 0.6, "1.2,1.2"));
  g.append("path").attr("d", line(cv[0])).attr("fill", "none").attr("stroke", KRED).attr("stroke-width", 1);
  g.append("path").attr("d", line(cv[1])).attr("fill", "none").attr("stroke", KBLUE).attr("stroke-width", 0.9).attr("stroke-dasharray", "1.6,1.2");
  const cens = (arr, rows, col) => arr.forEach(t => {
    const cx = x(t), cy = y(survAt(rows, t));
    ln(g, cx - 1.5, cy, cx + 1.5, cy, col, 0.6);
    ln(g, cx, cy - 1.5, cx, cy + 1.5, col, 0.6);
  });
  cens(censHigh[k], cv[0], KRED);
  cens(censLow[k], cv[1], KBLUE);
  g.append("rect").attr("x", x0).attr("y", py0).attr("width", x1 - x0).attr("height", py1 - py0).attr("fill", "none").attr("stroke", "#C8C8C8").attr("stroke-width", 0.8);
  [0, 0.25, 0.5, 0.75, 1].forEach(v => {
    ln(g, x0 - 2, y(v), x0, y(v), "#444", 0.6);
    txt(g, x0 - 3, y(v) + 3, v.toFixed(2), 8, {anchor: "end", fill: "#333"});
  });
  txt(g, x0 - 21, 306, "Survival probability", 10, {anchor: "middle", rotate: -90, fill: "#222"});
  txt(g, (x0 + x1) / 2, 255, kmTitles[k], 10, {anchor: "middle", fill: "#222"});
  txt(g, kmLetters[k][1], 248, kmLetters[k][0], 13, {weight: "bold", fill: "#000"});
  txt(g, x(kmP[k][0]), y(kmP[k][1]), pTexts[k], 4.6, {anchor: "middle", fill: "#333"});
  hrTexts[k].forEach((s, i) => txt(g, x(0) + 0.5, 334 + i * 5.3, s, 4.3, {fill: "#333"}));
  const ty0 = 356.5, ty1 = 378;
  g.append("rect").attr("x", x0).attr("y", ty0).attr("width", x1 - x0).attr("height", ty1 - ty0).attr("fill", "#fff");
  ticks.forEach(t => ln(g, x(t), ty0, x(t), ty1, "#EAEAEA", 0.5));
  minorX.forEach(t => ln(g, x(t), ty0, x(t), ty1, "#F3F3F3", 0.5));
  g.append("rect").attr("x", x0).attr("y", ty0).attr("width", x1 - x0).attr("height", ty1 - ty0).attr("fill", "none").attr("stroke", "#C8C8C8").attr("stroke-width", 0.8);
  [[riskHigh[k], "High risk", KRED, 362.8], [riskLow[k], "Low risk", "#4A7FD0", 373]].forEach(r => {
    txt(g, x0 - 2, r[3], r[1], 5, {anchor: "end", fill: r[2]});
    ln(g, x0 - 1.5, r[3] - 1.5, x0, r[3] - 1.5, "#666", 0.4);
    r[0].forEach((n, i) => txt(g, x(ticks[i]), r[3], String(n), 4, {anchor: "middle", fill: r[2]}));
  });
  txt(g, x0 - 26, 367, "Events", 4.6, {anchor: "middle", rotate: -90, fill: "#333"});
  ticks.forEach(t => {
    ln(g, x(t), ty1, x(t), ty1 + 2, "#444", 0.6);
    txt(g, x(t), 387, String(t), 8, {anchor: "middle", fill: "#222"});
  });
  txt(g, (x0 + x1) / 2, 397.5, "Time", 10, {anchor: "middle", fill: "#111"});
});
// KM legend
(() => {
  const g = svg.append("g");
  [["High risk", "#B22222", 0.38, KRED, null, 311], ["Low risk", "#4A7FD0", 0.4, KBLUE, "1.6,1.2", 322.5]].forEach(r => {
    g.append("rect").attr("x", 707).attr("y", r[5] - 5).attr("width", 12.5).attr("height", 9.5).attr("fill", r[1]).attr("fill-opacity", r[2]);
    const l = ln(g, 707, r[5], 719.5, r[5], r[3], 1);
    if (r[4]) l.attr("stroke-dasharray", r[4]);
    ln(g, 713.2, r[5] - 2, 713.2, r[5] + 2, r[3], 0.7);
    txt(g, 721, r[5] + 2.6, r[0], 6.9, {fill: "#222"});
  });
})();

// ---------- H ----------
(() => {
  const g = svg.append("g");
  const y = d3.scaleLinear().domain([-1, 2]).range([539.5, 442]);
  const gx = d3.scaleBand().domain(vGroups).range([44, 410]).paddingInner(0.15).paddingOuter(0.05);
  const pos = {};
  vGroups.forEach((grp, gi) => {
    const inner = d3.scaleBand().domain(vCats[gi]).range([gx(grp), gx(grp) + gx.bandwidth()]);
    vCats[gi].forEach(c => pos[c] = {x: inner(c) + inner.bandwidth() / 2, step: inner.step(), col: vColors[gi]});
  });
  Object.keys(pos).forEach(c => {
    const p = pos[c];
    const w = d3.scaleLinear().domain([0, 1]).range([0, p.step / 2]);
    const area = d3.area().y(d => y(d[0])).x0(d => p.x - w(d[1])).x1(d => p.x + w(d[1])).curve(d3.curveCatmullRom);
    g.append("path").attr("d", area(vProfiles[c])).attr("fill", p.col).attr("stroke", "#2b2b2b").attr("stroke-width", 0.7);
    const b = vBoxes[c];
    const bw = p.step * 0.22;
    ln(g, p.x, y(b[0]), p.x, y(b[4]), "#2b2b2b", 0.8);
    g.append("rect").attr("x", p.x - bw / 2).attr("y", y(b[3])).attr("width", bw).attr("height", y(b[1]) - y(b[3]))
      .attr("fill", "#fff").attr("stroke", "#333").attr("stroke-width", 0.7);
    ln(g, p.x - bw / 2, y(b[2]), p.x + bw / 2, y(b[2]), "#333", 0.9);
    (vOutliers[c] || []).forEach(v => g.append("circle").attr("cx", p.x).attr("cy", y(v)).attr("r", 1.1).attr("fill", "#111"));
  });
  vBrackets.forEach(br => {
    const xa = pos[br[0]].x, xb = pos[br[1]].x, yy = y(br[2]);
    g.append("path").attr("d", `M${xa},${yy + 3}V${yy}H${xb}V${yy + 3}`).attr("fill", "none").attr("stroke", "#666").attr("stroke-width", 0.6);
    txt(g, (xa + xb) / 2, yy - 2, br[3], 5.5, {anchor: "middle", fill: "#333"});
  });
  ln(g, 44, 418, 44, 550, "#333", 0.8);
  ln(g, 44, 550, 410, 550, "#333", 0.8);
  [-1, 0, 1, 2].forEach(v => {
    ln(g, 41, y(v), 44, y(v), "#333", 0.7);
    txt(g, 39, y(v) + 3, String(v), 8.5, {anchor: "end", fill: "#333"});
  });
  Object.keys(pos).forEach(c => {
    ln(g, pos[c].x, 550, pos[c].x, 553, "#333", 0.7);
    txt(g, pos[c].x, 563.5, c, 9.5, {anchor: "middle", fill: "#222"});
  });
  txt(g, 22, 484, "Risk Score", 11, {anchor: "middle", rotate: -90, fill: "#222"});
  txt(g, 2, 418, "H", 13, {weight: "bold", fill: "#000"});
  vGroups.forEach((grp, i) => {
    g.append("rect").attr("x", 420).attr("y", 466 + i * 12.5).attr("width", 8).attr("height", 8).attr("fill", vColors[i]).attr("stroke", "#555").attr("stroke-width", 0.4);
    txt(g, 432, 473.5 + i * 12.5, grp, 9, {fill: "#222"});
  });
})();

// ---------- I ----------
(() => {
  const g = svg.append("g");
  const y = d3.scaleLinear().domain([0, 1]).range([543, 418]);
  const x = d3.scaleBand().domain(["Low", "High"]).range([543, 653]).paddingInner(0.5).paddingOuter(0.35);
  const stacks = {Low: lowVals, High: highVals};
  const bounds = {};
  Object.keys(stacks).forEach(k => {
    const vals = stacks[k];
    let top = 1;
    bounds[k] = [1];
    vals.forEach((v, i) => {
      const bot = top - v;
      g.append("rect").attr("x", x(k)).attr("y", y(top)).attr("width", x.bandwidth()).attr("height", Math.max(0, y(bot) - y(top)))
        .attr("fill", phylumColors[i]).attr("stroke", "#4d4d4d").attr("stroke-width", 0.6);
      bounds[k].push(bot);
      top = bot;
    });
    g.append("rect").attr("x", x(k)).attr("y", y(1)).attr("width", x.bandwidth()).attr("height", y(0) - y(1))
      .attr("fill", "none").attr("stroke", "#9a9a9a").attr("stroke-width", 1.1);
  });
  bounds.Low.forEach((b, i) => ln(g, x("Low") + x.bandwidth(), y(b), x("High"), y(bounds.High[i]), "#4d4d4d", 0.6));
  ln(g, 543, 413, 543, 549, "#333", 0.8);
  ln(g, 543, 549, 655, 549, "#333", 0.8);
  [0, 0.25, 0.5, 0.75, 1].forEach(v => {
    ln(g, 540, y(v), 543, y(v), "#333", 0.7);
    txt(g, 538, y(v) + 3, v.toFixed(2), 8, {anchor: "end", fill: "#333"});
  });
  ["Low", "High"].forEach(k => {
    const cx = x(k) + x.bandwidth() / 2;
    ln(g, cx, 549, cx, 552, "#333", 0.7);
    txt(g, cx, 561, k, 8, {anchor: "middle", fill: "#333"});
  });
  txt(g, 599, 572, "Variable", 11, {anchor: "middle", fill: "#222"});
  txt(g, 519, 481, "Value", 11, {anchor: "middle", rotate: -90, fill: "#222"});
  txt(g, 502, 419, "I", 13, {weight: "bold", fill: "#000"});
  txt(g, 655, 451, "Phylum", 6.5, {fill: "#222"});
  phylum.forEach((p, i) => {
    g.append("rect").attr("x", 658).attr("y", 455.5 + i * 7.25).attr("width", 6).attr("height", 6.3)
      .attr("fill", phylumColors[i]).attr("stroke", "#555").attr("stroke-width", 0.5);
    txt(g, 666.5, 461 + i * 7.25, p, 5.8, {fill: "#222"});
  });
})();
</script>
</body></html>
